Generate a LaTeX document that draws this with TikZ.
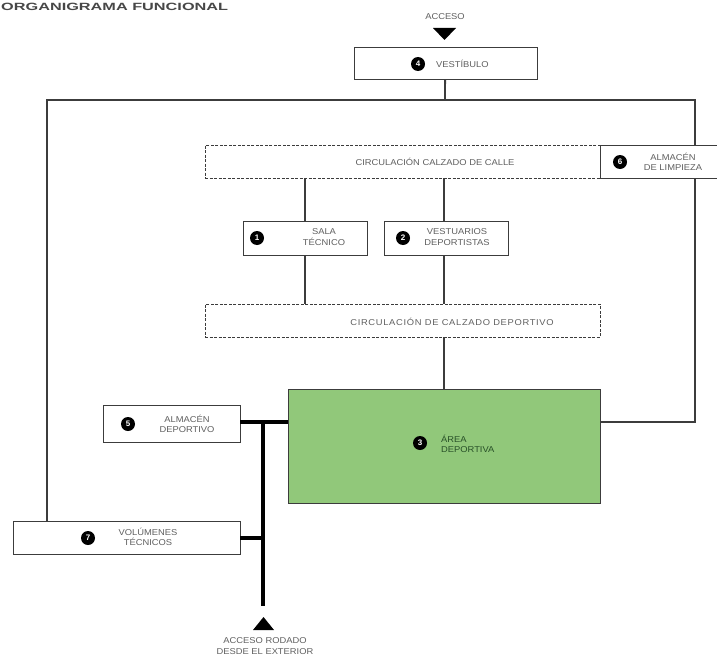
\documentclass[tikz,border=0pt]{standalone}
\usepackage{fontspec}
\setmainfont{Liberation Sans}
\newfontfamily\labfont[FakeStretch=1.1]{Liberation Sans}
\newfontfamily\titfont[FakeStretch=1.55]{Liberation Sans}
\definecolor{areagreen}{RGB}{145,200,122}
\definecolor{labgray}{RGB}{95,95,95}
\definecolor{linegray}{RGB}{60,60,60}
\definecolor{darkgreen}{RGB}{40,80,40}
\begin{document}
\begin{tikzpicture}[x=1pt,y=-1pt,
  box/.style={draw=linegray,line width=0.9pt,fill=white,inner sep=0pt},
  dbox/.style={draw=linegray,line width=0.8pt,dash pattern=on 3pt off 1.5pt,fill=white,inner sep=0pt},
  num/.style={circle,fill=black,text=white,inner sep=0pt,minimum size=14pt,font=\fontsize{8}{8}\selectfont\bfseries},
  lab/.style={text=labgray,font=\labfont\fontsize{8.5}{10.5}\selectfont,align=center,inner sep=0pt},
  conn/.style={draw=linegray,line width=1.2pt},
  thick conn/.style={draw=black,line width=4pt}
]
\useasboundingbox (0,0) rectangle (717,661);
% title
\node[anchor=west,text=black!72,font=\titfont\fontsize{10.5}{12}\selectfont\bfseries,inner sep=0pt] (title) at (1,7) {ORGANIGRAMA FUNCIONAL};

% coordinates
\coordinate (jL) at (47,100);
\coordinate (jR) at (695,100);
\coordinate (jT) at (445,100);
\coordinate (gR) at (600,422);
\coordinate (gL) at (288,422);
\coordinate (tv) at (263,422);
\coordinate (tb) at (263,606);

% connectors (behind boxes)
\draw[conn] (445,79) -- (jT);
\draw[conn] (47,521) -- (jL) -- (jR) -- (695,422) -- (gR);
\draw[conn] (305,178) -- (305,304);
\draw[conn] (444,178) -- (444,389);
\draw[thick conn] (240,422) -- (gL);
\draw[thick conn] (tv) -- (tb);
\draw[thick conn] (240,538) -- (263,538);

% boxes
\node[box,minimum width=183pt,minimum height=32pt] (vest) at (445.5,63) {};
\node[dbox,minimum width=395pt,minimum height=33pt] (calle) at (402.5,161.5) {};
\node[box,minimum width=117pt,minimum height=33pt] (limp) at (658.5,161.5) {};
\node[box,minimum width=124pt,minimum height=34pt] (sala) at (305,238) {};
\node[box,minimum width=124pt,minimum height=34pt] (vestu) at (446,238) {};
\node[dbox,minimum width=395pt,minimum height=33pt] (dep) at (402.5,320.5) {};
\node[draw=linegray,line width=0.9pt,fill=areagreen,minimum width=312pt,minimum height=114pt,inner sep=0pt] (area) at (444,446) {};
\node[box,minimum width=137pt,minimum height=37pt] (almdep) at (171.5,423.5) {};
\node[box,minimum width=227pt,minimum height=33pt] (vol) at (126.5,537.5) {};

% re-draw connectors touching boxes
\draw[conn] (vest.south) -- (jT);
\draw[conn] (calle.south -| sala.north) -- (sala.north);
\draw[conn] (calle.south -| 444,0) -- (vestu.north -| 444,0);
\draw[conn] (sala.south) -- (sala.south |- dep.north);
\draw[conn] (vestu.south -| 444,0) -- (dep.north -| 444,0);
\draw[conn] (dep.south -| 444,0) -- (area.north -| 444,0);
\draw[conn] (area.east |- gR) -- (gR);
\draw[conn] (vol.north -| jL) -- (jL);
\draw[thick conn] (almdep.east |- gL) -- (gL);
\draw[thick conn] (vol.east) -- (vol.east -| tv);

% labels
\node[lab] (acceso) at (445,17) {ACCESO};
\fill[black] (433,28) -- (456,28) -- (444.5,40) -- cycle;
\node[num] (n4) at (418,64) {4};
\node[lab,anchor=west] (tvest) at (436,64) {VESTÍBULO};

\node[lab] (tcalle) at (435,162) {CIRCULACIÓN CALZADO DE CALLE};
\node[num] (n6) at (620,162) {6};
\node[lab] (tlimp) at (673,162) {ALMACÉN\\DE LIMPIEZA};

\node[num] (n1) at (257,238) {1};
\node[lab] (tsala) at (324,237) {SALA\\TÉCNICO};
\node[num] (n2) at (403,238) {2};
\node[lab] (tvestu) at (457,237) {VESTUARIOS\\DEPORTISTAS};

\node[lab,font=\labfont\fontsize{8.5}{10.5}\selectfont\addfontfeatures{LetterSpace=8}] (tdep) at (452,322) {CIRCULACIÓN DE CALZADO DEPORTIVO};

\node[num] (n3) at (420,443) {3};
\node[lab,anchor=west,align=left,text=darkgreen] (tarea) at (441,444) {ÁREA\\DEPORTIVA};

\node[num] (n5) at (128,424) {5};
\node[lab] (talm) at (187,424) {ALMACÉN\\DEPORTIVO};

\node[num] (n7) at (88,538) {7};
\node[lab] (tvol) at (148,537) {VOLÚMENES\\TÉCNICOS};

\fill[black] (253,630) -- (274,630) -- (263.5,617) -- cycle;
\node[lab] (trod) at (265,646) {ACCESO RODADO\\DESDE EL EXTERIOR};
\end{tikzpicture}
\end{document}
